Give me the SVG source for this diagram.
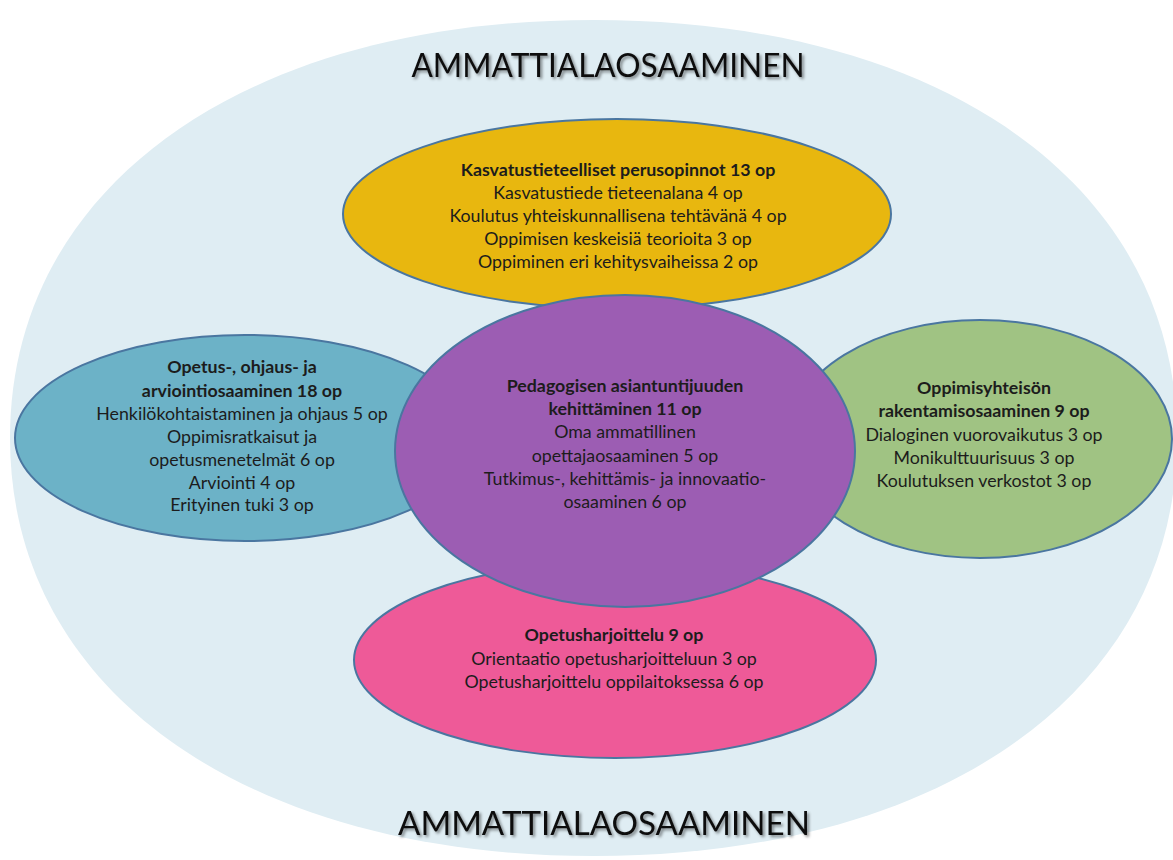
<svg xmlns="http://www.w3.org/2000/svg" width="1173" height="860" viewBox="0 0 1173 860">
<defs>
<filter id="sh" x="-10%" y="-50%" width="120%" height="200%">
<feDropShadow dx="2" dy="2" stdDeviation="1.5" flood-color="#000" flood-opacity="0.45"/>
</filter>
<style>
.bub{stroke:#4a76a0;stroke-width:2}
.t{font-family:Lato,"Open Sans","Liberation Sans",sans-serif;font-size:17.8px;fill:#1c1c1c;text-anchor:middle}
.b{font-weight:bold}
.title{font-family:Lato,"Open Sans","Liberation Sans",sans-serif;font-size:33px;fill:#111;text-anchor:middle}
</style>
</defs>
<rect width="1173" height="860" fill="#fff"/>
<path id="outer" d="M10,438 C10,186 245,20 594,20 C943,20 1177,186 1177,438 C1177,690 943,856 594,856 C245,856 10,690 10,438 Z" fill="#dfedf3"/>
<text class="title" x="608" y="77" textLength="393" lengthAdjust="spacingAndGlyphs" filter="url(#sh)">AMMATTIALAOSAAMINEN</text>
<text class="title" x="604" y="835" textLength="412" lengthAdjust="spacingAndGlyphs" filter="url(#sh)">AMMATTIALAOSAAMINEN</text>
<g id="connectors"/>
<g id="node-kasvatus">
<ellipse class="bub" cx="617" cy="214" rx="274" ry="95" fill="#e8b70f"/>
<text class="t b" x="618" y="176">Kasvatustieteelliset perusopinnot 13 op</text>
<text class="t" x="618" y="199">Kasvatustiede tieteenalana 4 op</text>
<text class="t" x="618" y="222">Koulutus yhteiskunnallisena tehtävänä 4 op</text>
<text class="t" x="618" y="245">Oppimisen keskeisiä teorioita 3 op</text>
<text class="t" x="618" y="268">Oppiminen eri kehitysvaiheissa 2 op</text>
</g>
<g id="node-opetus">
<ellipse class="bub" cx="245" cy="438" rx="230" ry="103" fill="#6cb2c7"/>
<text class="t b" x="242" y="373">Opetus-, ohjaus- ja</text>
<text class="t b" x="242" y="397">arviointiosaaminen 18 op</text>
<text class="t" x="242" y="420">Henkilökohtaistaminen ja ohjaus 5 op</text>
<text class="t" x="242" y="443">Oppimisratkaisut ja</text>
<text class="t" x="242" y="466">opetusmenetelmät 6 op</text>
<text class="t" x="242" y="489">Arviointi 4 op</text>
<text class="t" x="242" y="511">Erityinen tuki 3 op</text>
</g>
<g id="node-oppimisyhteiso">
<ellipse class="bub" cx="980" cy="439" rx="192" ry="119" fill="#a0c383"/>
<text class="t b" x="984" y="394">Oppimisyhteisön</text>
<text class="t b" x="984" y="417">rakentamisosaaminen 9 op</text>
<text class="t" x="984" y="441">Dialoginen vuorovaikutus 3 op</text>
<text class="t" x="984" y="464">Monikulttuurisuus 3 op</text>
<text class="t" x="984" y="487">Koulutuksen verkostot 3 op</text>
</g>
<g id="node-harjoittelu">
<ellipse class="bub" cx="615" cy="660" rx="261" ry="98" fill="#ee5a98"/>
<text class="t b" x="614" y="641">Opetusharjoittelu 9 op</text>
<text class="t" x="614" y="665">Orientaatio opetusharjoitteluun 3 op</text>
<text class="t" x="614" y="688">Opetusharjoittelu oppilaitoksessa 6 op</text>
</g>
<g id="node-pedagoginen">
<ellipse class="bub" cx="625" cy="451" rx="230" ry="156" fill="#9c5db3"/>
<text class="t b" x="625" y="392">Pedagogisen asiantuntijuuden</text>
<text class="t b" x="625" y="415">kehittäminen 11 op</text>
<text class="t" x="625" y="438">Oma ammatillinen</text>
<text class="t" x="625" y="462">opettajaosaaminen 5 op</text>
<text class="t" x="625" y="485">Tutkimus-, kehittämis- ja innovaatio-</text>
<text class="t" x="625" y="508">osaaminen 6 op</text>
</g>
</svg>
